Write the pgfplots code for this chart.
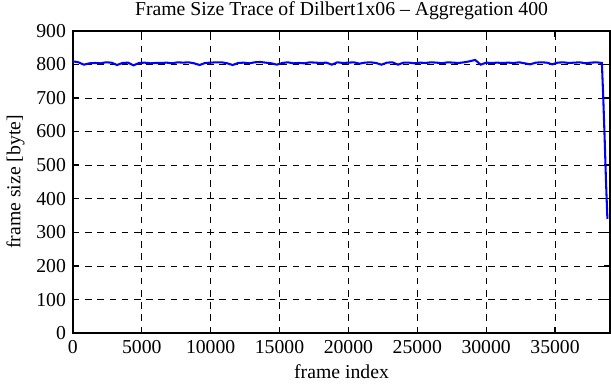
\documentclass[border=0pt]{standalone}
\usepackage{pgfplots}
\pgfplotsset{compat=1.18}
\usepackage{fontspec}
\setmainfont{Liberation Serif}
\begin{document}
\fontsize{10.5pt}{12.5pt}\selectfont
\begin{tikzpicture}
\begin{axis}[
  width=286pt, height=161pt, scale only axis,
  xmin=0, xmax=39000, ymin=0, ymax=900,
  xtick={0,5000,...,35000}, ytick={0,100,...,900},
  scaled x ticks=false,
  /pgf/number format/assume math mode=true,
  xticklabel style={/pgf/number format/.cd, 1000 sep={}},
  tick align=inside, tick pos=both,
  major tick length=3.5pt,
  grid=major, major grid style={black, dash pattern=on 3.5pt off 3pt, line width=0.45pt},
  axis line style={black, line width=0.9pt},
  tick style={black, line width=0.7pt},
  title={Frame Size Trace of Dilbert1x06 -- Aggregation 400},
  title style={inner sep=1pt, yshift=-1.5pt},
  xlabel={frame index}, ylabel={frame size [byte]},
  xlabel style={yshift=1pt}, ylabel style={yshift=-1pt},
  every tick label/.style={font=\fontsize{10.5pt}{12.5pt}\selectfont},
  label style={font=\fontsize{10.5pt}{12.5pt}\selectfont},
]
\addplot[blue, line width=1.1pt, mark=none] coordinates {
(0,809) (400,806) (800,799) (1200,803) (1600,804) (2000,803) (2400,806) (2800,805)
(3200,798) (3600,804) (4000,805) (4400,797) (4800,804) (5200,805) (5600,803) (6000,804)
(6400,804) (6800,805) (7200,803) (7600,806) (8000,805) (8400,806) (8800,803) (9200,798)
(9600,804) (10000,805) (10400,806) (10800,806) (11200,803) (11600,798) (12000,804) (12400,805)
(12800,803) (13200,806) (13600,807) (14000,805) (14400,803) (14800,799) (15200,804) (15600,806)
(16000,803) (16400,804) (16800,803) (17200,806) (17600,805) (18000,804) (18400,805) (18800,799)
(19200,806) (19600,804) (20000,805) (20400,806) (20800,802) (21200,805) (21600,806) (22000,804)
(22400,799) (22800,805) (23200,806) (23600,799) (24000,805) (24400,805) (24800,803) (25200,805)
(25600,804) (26000,806) (26400,805) (26800,803) (27200,806) (27600,805) (28000,804) (28400,806)
(28800,809) (29200,813) (29600,799) (30000,805) (30400,804) (30800,805) (31200,804) (31600,805)
(32000,804) (32400,806) (32800,803) (33200,800) (33600,805) (34000,806) (34400,805) (34800,800)
(35200,805) (35600,806) (36000,804) (36400,805) (36800,806) (37200,803) (37600,805) (38000,806)
(38400,804) (38500,700) (38600,580) (38700,450) (38800,340)
};
\end{axis}
\end{tikzpicture}
\end{document}
